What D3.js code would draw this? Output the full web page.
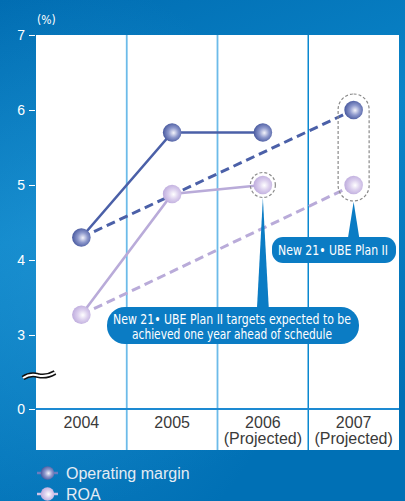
<!DOCTYPE html>
<html>
<head>
<meta charset="utf-8">
<script src="https://cdn.jsdelivr.net/npm/d3@7"></script>
<style>
  html, body { margin: 0; padding: 0; background: #0074b8; }
  svg { display: block; }
</style>
</head>
<body>
<div id="chart"></div>
<script>
// Fiscal years and their axis labels
const years = ["2004", "2005", "2006", "2007"];
const yearSubLabels = ["", "", "(Projected)", "(Projected)"];

// Series values (%)
const operatingMargin = [4.3, 5.7, 5.7, 6.0];
const roa = [3.27, 4.88, 5.0, 5.0];

// Y axis ticks (axis is broken between 0 and 3)
const yTicks = [0, 3, 4, 5, 6, 7];

const seriesNames = ["Operating margin", "ROA"];
const calloutMain = ["New 21\u2022 UBE Plan II targets expected to be", "achieved one year ahead of schedule"];
const calloutPlan = "New 21\u2022 UBE Plan II";

const W = 405, H = 501;
const plot = { left: 36, right: 399, top: 35, axisY: 409, bottom: 450 };
const condensed = "'DejaVu Sans Condensed', 'Liberation Sans', Arial, sans-serif";

const svg = d3.select("#chart").append("svg")
  .attr("width", W).attr("height", H);

const defs = svg.append("defs");

// Background
const bg = defs.append("linearGradient").attr("id", "bg")
  .attr("x1", 0).attr("y1", 0).attr("x2", 0.3).attr("y2", 1);
bg.append("stop").attr("offset", 0).attr("stop-color", "#006cb1");
bg.append("stop").attr("offset", 0.45).attr("stop-color", "#0a84c8");
bg.append("stop").attr("offset", 1).attr("stop-color", "#0070b5");
const glow = defs.append("radialGradient").attr("id", "glow")
  .attr("cx", 0.15).attr("cy", 0.55).attr("r", 0.6);
glow.append("stop").attr("offset", 0).attr("stop-color", "#3aa6e0").attr("stop-opacity", 0.35);
glow.append("stop").attr("offset", 1).attr("stop-color", "#3aa6e0").attr("stop-opacity", 0);

svg.append("rect").attr("width", W).attr("height", H).attr("fill", "url(#bg)");
svg.append("rect").attr("width", W).attr("height", H).attr("fill", "url(#glow)");

// Marker gradients
function ballGradient(id, inner, mid, outer) {
  const g = defs.append("radialGradient").attr("id", id)
    .attr("cx", 0.55).attr("cy", 0.5).attr("r", 0.6).attr("fx", 0.58).attr("fy", 0.52);
  g.append("stop").attr("offset", 0).attr("stop-color", inner);
  g.append("stop").attr("offset", 0.45).attr("stop-color", mid);
  g.append("stop").attr("offset", 1).attr("stop-color", outer);
}
ballGradient("ballOM", "#f4f4fb", "#8d98cc", "#3b4d96");
ballGradient("ballROA", "#ffffff", "#dcd0ee", "#b9a6da");

const colors = {
  om: { line: "#4b60a8", legendLine: "#6c7cbf", ball: "url(#ballOM)" },
  roa: { line: "#b9abd9", legendLine: "#cfc3e8", ball: "url(#ballROA)" }
};

// Scales
const x = d3.scaleBand().domain(years).range([plot.left, plot.right]).padding(0);
const cx = d => x(d) + x.bandwidth() / 2;
const y = d3.scaleLinear().domain([0, 3, 7]).range([plot.axisY, 335, plot.top]);

// Plot panel
svg.append("rect")
  .attr("x", plot.left).attr("y", plot.top)
  .attr("width", plot.right - plot.left).attr("height", plot.bottom - plot.top)
  .attr("fill", "#ffffff");

// Column separators (the last one marks the start of the plan period)
svg.append("g").selectAll("line")
  .data(years.slice(1))
  .join("line")
  .attr("x1", d => x(d)).attr("x2", d => x(d))
  .attr("y1", plot.top).attr("y2", plot.bottom)
  .attr("stroke", (d, i) => i === 2 ? "#0a88d0" : "#6cbbe9")
  .attr("stroke-width", (d, i) => i === 2 ? 1.5 : 1.8);

// Baseline
svg.append("line")
  .attr("x1", plot.left).attr("x2", plot.right)
  .attr("y1", y(0)).attr("y2", y(0))
  .attr("stroke", "#1d8ad2").attr("stroke-width", 2.2);

// Y axis
const yAxis = d3.axisLeft(y).tickValues(yTicks).tickSize(6).tickPadding(4).tickFormat(d3.format("d"));
const yg = svg.append("g").attr("transform", `translate(${plot.left - 1},0)`).call(yAxis);
yg.select(".domain").remove();
yg.selectAll(".tick line").attr("stroke", "#ffffff").attr("stroke-width", 1);
yg.selectAll(".tick text")
  .attr("fill", "#ffffff")
  .attr("font-family", "'Liberation Sans', Arial, sans-serif")
  .attr("font-size", 14);

svg.append("text")
  .attr("x", 37).attr("y", 24)
  .attr("fill", "#ffffff")
  .attr("font-family", condensed)
  .attr("font-size", 12)
  .text("(%)");

// Axis break mark
const brk = svg.append("g");
const brkPath = "M23,378 C29,374 33,374 38,375.5 C44,377 49,376 55,372.5";
brk.append("path").attr("d", brkPath).attr("fill", "none").attr("stroke", "#111").attr("stroke-width", 5);
brk.append("path").attr("d", brkPath).attr("fill", "none").attr("stroke", "#ffffff").attr("stroke-width", 2);

// X labels
const xl = svg.append("g")
  .attr("font-family", "'Liberation Sans', Arial, sans-serif")
  .attr("font-size", 16)
  .attr("fill", "#3a3a3a")
  .attr("text-anchor", "middle");
xl.selectAll("text.yr").data(years).join("text")
  .attr("class", "yr")
  .attr("x", d => cx(d)).attr("y", 428)
  .text(d => d);
xl.selectAll("text.sub").data(years.filter((d, i) => yearSubLabels[i]))
  .join("text")
  .attr("class", "sub")
  .attr("x", d => cx(d)).attr("y", 444)
  .text(d => yearSubLabels[years.indexOf(d)]);

// Lines
const line = d3.line().x(d => cx(d.year)).y(d => y(d.value));
function seriesPoints(vals) { return years.map((yr, i) => ({ year: yr, value: vals[i] })); }
const omPts = seriesPoints(operatingMargin);
const roaPts = seriesPoints(roa);

// Dashed trend from the first year to the plan target year
function drawDashed(pts, color) {
  svg.append("path")
    .attr("d", line([pts[0], pts[pts.length - 1]]))
    .attr("fill", "none").attr("stroke", color)
    .attr("stroke-width", 3).attr("stroke-dasharray", "9,5");
}
function drawSolid(pts, color) {
  svg.append("path")
    .attr("d", line(pts.slice(0, 3)))
    .attr("fill", "none").attr("stroke", color)
    .attr("stroke-width", 2.6);
}
drawDashed(roaPts, colors.roa.line);
drawDashed(omPts, colors.om.line);
drawSolid(roaPts, colors.roa.line);
drawSolid(omPts, colors.om.line);

// Highlight rings
svg.append("circle")
  .attr("cx", cx("2006")).attr("cy", y(roa[2]))
  .attr("r", 12.5)
  .attr("fill", "none").attr("stroke", "#8a8a8a")
  .attr("stroke-width", 1.2).attr("stroke-dasharray", "3,2");

const capTop = y(operatingMargin[3]) - 16;
const capBot = y(roa[3]) + 16;
svg.append("rect")
  .attr("x", cx("2007") - 15.5).attr("y", capTop)
  .attr("width", 31).attr("height", capBot - capTop)
  .attr("rx", 15.5)
  .attr("fill", "none").attr("stroke", "#8a8a8a")
  .attr("stroke-width", 1.2).attr("stroke-dasharray", "3,2");

// Markers
function drawBalls(pts, fill) {
  svg.append("g").selectAll("circle").data(pts).join("circle")
    .attr("cx", d => cx(d.year)).attr("cy", d => y(d.value))
    .attr("r", 9.3).attr("fill", fill);
}
drawBalls(roaPts, colors.roa.ball);
drawBalls(omPts, colors.om.ball);

// Callouts
const calloutFill = "#0b7cc4";
const cg = svg.append("g");

// pointer from 2006 ROA ring to main callout
const p1x = cx("2006");
cg.append("path")
  .attr("d", `M${p1x},${y(roa[2]) + 13} L${p1x + 6},310 L${p1x - 6},310 Z`)
  .attr("fill", calloutFill);
cg.append("rect")
  .attr("x", 107).attr("y", 307).attr("width", 252).attr("height", 37)
  .attr("rx", 18).attr("fill", calloutFill);

// pointer from 2007 capsule to plan callout
const p2x = cx("2007");
cg.append("path")
  .attr("d", `M${p2x},${capBot + 1} L${p2x + 6},240 L${p2x - 6},240 Z`)
  .attr("fill", calloutFill);
cg.append("rect")
  .attr("x", 272).attr("y", 237).attr("width", 124).attr("height", 26)
  .attr("rx", 11).attr("fill", calloutFill);

const ctext = cg.append("g")
  .attr("font-family", condensed)
  .attr("font-size", 13.5)
  .attr("fill", "#ffffff")
  .attr("text-anchor", "middle");
const mainWidths = [238, 200];
ctext.selectAll("text.m").data(calloutMain).join("text")
  .attr("class", "m")
  .attr("x", 232).attr("y", (d, i) => 324 + i * 15)
  .attr("textLength", (d, i) => mainWidths[i])
  .attr("lengthAdjust", "spacingAndGlyphs")
  .text(d => d);
ctext.append("text")
  .attr("x", 333).attr("y", 255)
  .attr("textLength", 110)
  .attr("lengthAdjust", "spacingAndGlyphs")
  .text(calloutPlan);

// Legend
const legend = svg.append("g");
const legendRows = [
  { name: seriesNames[0], c: colors.om, y: 473 },
  { name: seriesNames[1], c: colors.roa, y: 494 }
];
legendRows.forEach(r => {
  legend.append("line")
    .attr("x1", 37).attr("x2", 58).attr("y1", r.y).attr("y2", r.y)
    .attr("stroke", r.c.legendLine).attr("stroke-width", 2.5);
  legend.append("circle")
    .attr("cx", 47.5).attr("cy", r.y).attr("r", 6.8)
    .attr("fill", r.c.ball);
  legend.append("text")
    .attr("x", 66).attr("y", r.y + 5.5)
    .attr("fill", "#e4ecf4")
    .attr("font-family", "'Liberation Sans', Arial, sans-serif")
    .attr("font-size", 16)
    .text(r.name);
});
</script>
</body>
</html>
